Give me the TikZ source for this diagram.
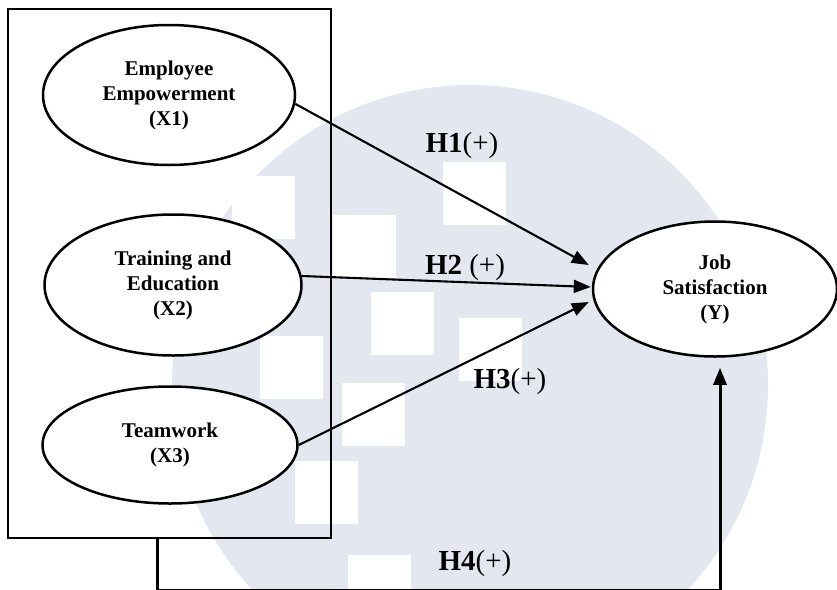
\documentclass[tikz,border=0pt]{standalone}
\usepackage{fontspec}
\setmainfont{Liberation Serif}
\usetikzlibrary{shapes.geometric,arrows.meta}
\definecolor{wmblue}{RGB}{227,232,240}

\begin{document}
\begin{tikzpicture}[x=1pt,y=-1pt,
    var/.style={draw,ellipse,line width=2.5pt,fill=white,inner sep=0pt,align=center,
      font=\fontsize{21}{25}\selectfont\bfseries},
    hyp/.style={font=\fontsize{29}{32}\selectfont},
    link/.style={line width=2.1pt,-{Triangle[length=17pt,width=13pt]}}]
    \useasboundingbox (0,0) rectangle (837,589);
    \fill[wmblue] (470,385) ellipse [x radius=298, y radius=300];
    \foreach \sx/\sy in {232/176,333/215,371/292,260/336,342/383,295/461,348/555,443/162,459/318}
        \fill[white] (\sx,\sy) rectangle ++(63,63);
    \node[draw,line width=2.5pt,minimum width=323pt,minimum height=529pt] (grp) at (169.5,273.5) {};
    \node[var,minimum width=252pt,minimum height=140pt] (x1) at (169,95) {Employee\\Empowerment\\(X1)};
    \node[var,minimum width=257pt,minimum height=141pt] (x2) at (173,285) {Training and\\Education\\(X2)};
    \node[var,minimum width=255pt,minimum height=117pt] (x3) at (170,445) {Teamwork\\(X3)};
    \node[var,minimum width=244pt,minimum height=135pt] (y) at (715,289) {Job\\Satisfaction\\(Y)};
    \coordinate (t1) at ([shift={(-3,-24)}]y.west);
    \coordinate (t2) at ([shift={(-1,-2)}]y.west);
    \coordinate (t3) at ([shift={(-3,13)}]y.west);
    \coordinate (t4) at ([shift={(5,10)}]y.south);
    \coordinate (g4) at ([xshift=-12pt]grp.south);
    \draw[link] (x1.-4) -- (t1);
    \draw[link] (x2.4) -- (t2);
    \draw[link] (x3.east) -- (t3);
    \draw[link,line width=3pt] (g4) -- ++(0,51) -| (t4);
    \node[hyp] (h1) at (462,146) {\textbf{H1}(+)};
    \node[hyp] (h2) at (465,268) {\textbf{H2} (+)};
    \node[hyp] (h3) at (510,382) {\textbf{H3}(+)};
    \node[hyp] (h4) at (475,564) {\textbf{H4}(+)};
\end{tikzpicture}
\end{document}
